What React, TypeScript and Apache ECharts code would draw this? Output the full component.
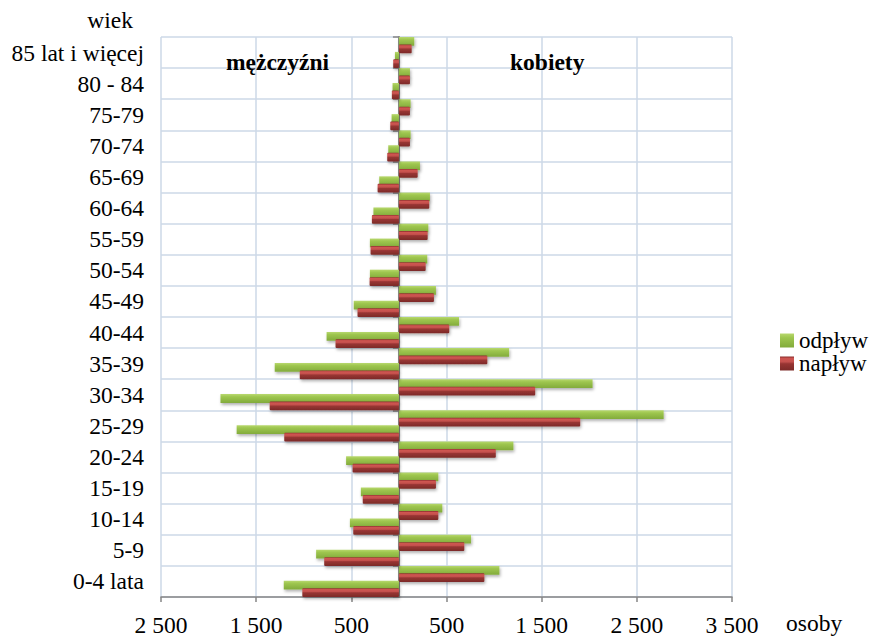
import React, { useEffect, useRef } from "react";
import * as echarts from "echarts";

const categories = [
  "0-4 lata", "5-9", "10-14", "15-19", "20-24", "25-29", "30-34", "35-39", "40-44",
  "45-49", "50-54", "55-59", "60-64", "65-69", "70-74", "75-79", "80 - 84", "85 lat i więcej",
];
const menOut = [1210, 870, 515, 400, 555, 1705, 1875, 1305, 760, 475, 305, 305, 268, 207, 112, 77, 67, 42];
const menIn = [1015, 785, 480, 380, 487, 1205, 1358, 1042, 666, 435, 308, 298, 284, 224, 123, 91, 74, 60];
const womenOut = [1056, 758, 456, 414, 1203, 2782, 2035, 1158, 632, 389, 298, 309, 326, 221, 123, 123, 116, 161];
const womenIn = [898, 687, 414, 389, 1018, 1905, 1432, 929, 529, 368, 281, 302, 319, 197, 116, 116, 116, 134];
const seriesNames = ["odpływ", "napływ"];
const genderLabels = ["mężczyźni", "kobiety"];
const axisTitles = ["wiek", "osoby"];

const SERIF = "Liberation Serif";

const greenFill = new echarts.graphic.LinearGradient(0, 0, 0, 1, [
  { offset: 0, color: "#b8d86e" },
  { offset: 0.3, color: "#9ec64f" },
  { offset: 1, color: "#82ab3b" },
]);
const redFill = new echarts.graphic.LinearGradient(0, 0, 0, 1, [
  { offset: 0, color: "#8a2e2c" },
  { offset: 0.15, color: "#cf5551" },
  { offset: 0.38, color: "#c4504d" },
  { offset: 0.52, color: "#983533" },
  { offset: 1, color: "#7c2a28" },
]);

function fmt(v: number) {
  return String(Math.abs(v)).replace(/\B(?=(\d{3})+(?!\d))/g, " ");
}

export default function App() {
  const ref = useRef<HTMLDivElement>(null);
  useEffect(() => {
    if (!ref.current) return;
    const chart = echarts.init(ref.current, undefined, { renderer: "svg" });
    const barBase = {
      type: "bar",
      yAxisIndex: 0,
      barGap: "-15%",
      barCategoryGap: "0%",
    };
    const greenStyle = {
      color: greenFill,
      shadowBlur: 3,
      shadowColor: "rgba(0,0,0,0.3)",
      shadowOffsetX: 1,
      shadowOffsetY: 2,
    };
    const redStyle = {
      color: redFill,
      borderRadius: 1,
      shadowBlur: 3,
      shadowColor: "rgba(0,0,0,0.3)",
      shadowOffsetX: 1,
      shadowOffsetY: 2,
    };
    const txt = (text: string, pos: any, bold: boolean) => ({
      type: "text",
      z: 100,
      ...pos,
      style: {
        text,
        fontFamily: SERIF,
        fontSize: 23.5,
        fontWeight: bold ? "bold" : "normal",
        fill: "#000",
      },
    });
    chart.setOption({
      animation: false,
      backgroundColor: "#ffffff",
      textStyle: { fontFamily: SERIF },
      grid: { left: 161, right: 140, top: 37, bottom: 41, containLabel: false },
      legend: {
        data: seriesNames,
        orient: "vertical",
        left: 780,
        top: 329,
        itemWidth: 14,
        itemHeight: 14,
        itemGap: 0,
        padding: 0,
        icon: "rect",
        formatter: (name: string) => `{s|${name}}`,
        textStyle: {
          fontFamily: SERIF,
          fontSize: 23,
          color: "#000",
          lineHeight: 23,
          rich: {
            s: { fontFamily: SERIF, fontSize: 23, color: "#000", lineHeight: 23 },
          },
        },
      },
      xAxis: {
        type: "value",
        min: -2500,
        max: 3500,
        interval: 1000,
        axisLine: { show: true, lineStyle: { color: "#868686", width: 1.5 } },
        axisTick: { show: true, length: 5, lineStyle: { color: "#868686", width: 1.5 } },
        axisLabel: {
          formatter: (v: number) => fmt(v),
          fontFamily: SERIF,
          fontSize: 23.5,
          color: "#000",
          margin: 16,
        },
        splitLine: { show: true, lineStyle: { color: "#cdd8e7", width: 1.5 } },
      },
      yAxis: [
        {
          type: "category",
          data: categories,
          position: "left",
          axisLine: { show: false, onZero: false },
          axisTick: { show: false },
          axisLabel: {
            interval: 0,
            fontFamily: SERIF,
            fontSize: 23.5,
            color: "#000",
            margin: 17,
          },
          splitLine: { show: true, interval: 0, lineStyle: { color: "#cdd8e7", width: 1.5 } },
        },
        {
          type: "category",
          data: categories,
          position: "left",
          axisLine: { show: true, onZero: true, lineStyle: { color: "#868686", width: 2 } },
          axisTick: { show: true, interval: 0, length: 6, lineStyle: { color: "#868686", width: 1.5 } },
          axisLabel: { show: false, interval: 0 },
          splitLine: { show: false },
        },
      ],
      graphic: [
        txt(genderLabels[0], { left: 226, top: 50 }, true),
        txt(genderLabels[1], { left: 510, top: 50 }, true),
        txt(axisTitles[0], { right: 872 - 133, top: 8 }, false),
        txt(axisTitles[1], { left: 786, top: 611 }, false),
      ],
      series: [
        { ...barBase, name: seriesNames[0], data: womenOut, itemStyle: greenStyle },
        { ...barBase, name: seriesNames[1], data: womenIn, itemStyle: redStyle },
        { ...barBase, name: seriesNames[0], data: menOut.map((v) => -v), itemStyle: greenStyle },
        { ...barBase, name: seriesNames[1], data: menIn.map((v) => -v), itemStyle: redStyle },
      ],
    });
    return () => chart.dispose();
  }, []);
  return (
    <div
      ref={ref}
      style={{ position: "fixed", left: 0, top: 0, width: 872, height: 638, background: "#fff" }}
    />
  );
}
